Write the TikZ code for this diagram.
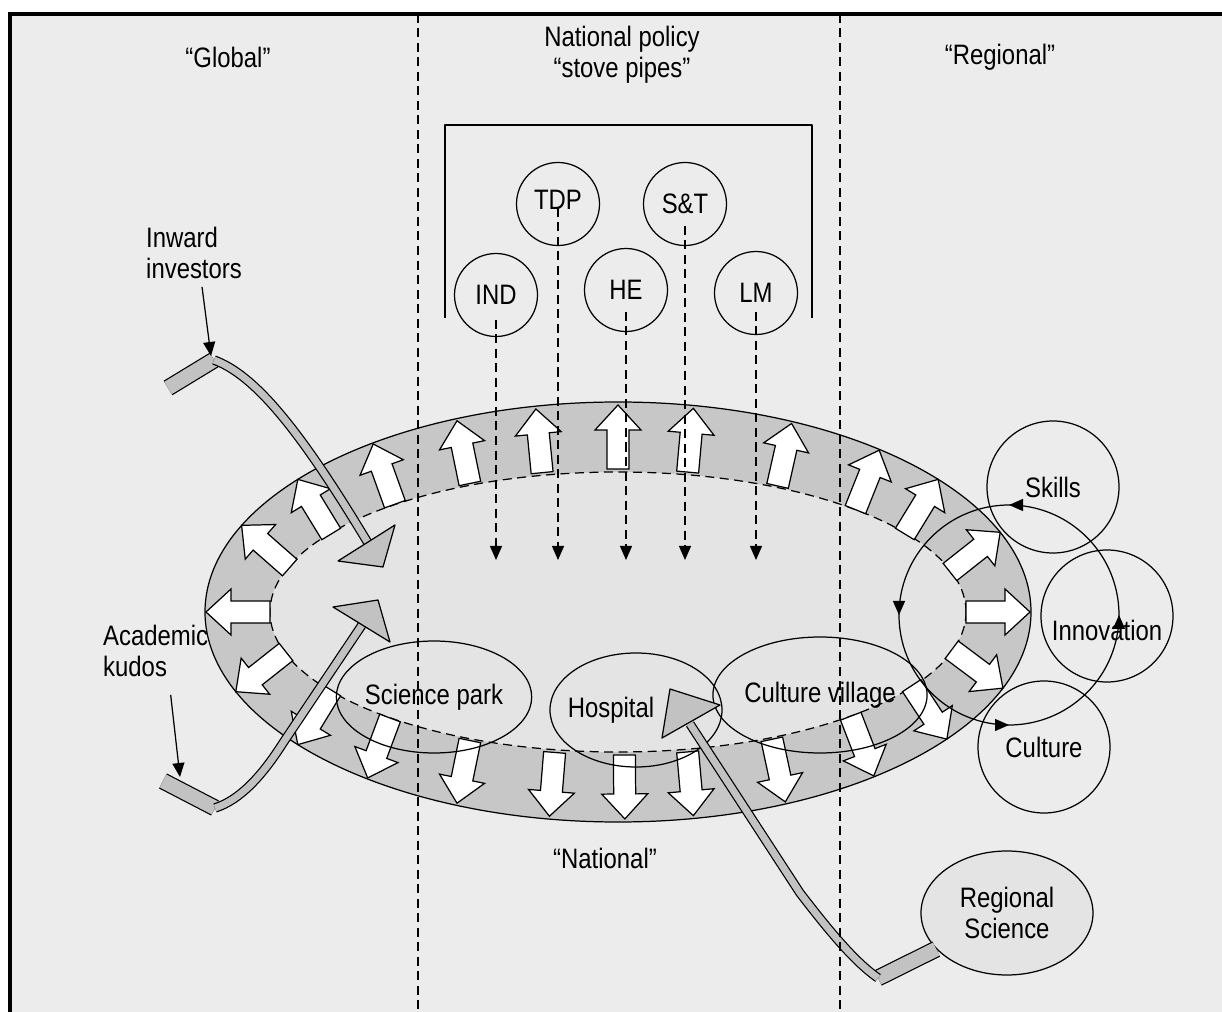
\documentclass[tikz,border=0pt]{standalone}
\usepackage{fontspec}
\setmainfont{Liberation Sans}[FakeStretch=0.85]
\usetikzlibrary{arrows.meta,calc,shapes.geometric,decorations.markings}

\definecolor{paper}{gray}{0.925}
\definecolor{ringgrey}{gray}{0.78}
\definecolor{core}{gray}{0.895}
\definecolor{pipegrey}{gray}{0.76}

\begin{document}
\begin{tikzpicture}[x=0.2mm, y=0.2mm, line join=round,
    every node/.style={font=\fontsize{16pt}{17.5pt}\selectfont},
    zone/.style={line width=0.7pt, dash pattern=on 1.8mm off 1.1mm},
    policy/.style={circle, draw, line width=0.7pt, minimum size=16.6mm, inner sep=0pt},
    flow/.style={line width=0.7pt, dash pattern=on 1.8mm off 1.1mm, -{Triangle[length=2.8mm,width=2.4mm]}},
    place/.style={ellipse, draw, line width=0.7pt, inner sep=0pt},
    area/.style={circle, draw, line width=0.7pt, minimum size=26.4mm, inner sep=0pt},
    blockarrow/.style={draw, fill=white, line width=0.7pt, line join=miter},
    tube/.style={line width=0.7pt, double=pipegrey, double distance=1.4mm},
    stub/.style={line width=0.7pt, double=pipegrey, double distance=2.9mm},
    pointer/.style={line width=0.7pt, -{Triangle[length=2.8mm,width=2.4mm]}},
    spin/.style={line width=0.7pt, postaction=decorate, decoration={markings,
        mark=at position 0.125 with {\arrow{Triangle[length=2.8mm,width=2.4mm]}},
        mark=at position 0.375 with {\arrow{Triangle[length=2.8mm,width=2.4mm]}},
        mark=at position 0.625 with {\arrow{Triangle[length=2.8mm,width=2.4mm]}},
        mark=at position 0.875 with {\arrow{Triangle[length=2.8mm,width=2.4mm]}}}}
  ]

  \useasboundingbox (0,0) rectangle (1222,-1012);
  \fill[white] (0,0) rectangle (1222,-1012);
  \fill[paper] (10,-14) rectangle (1222,-1012);
  \draw[line width=0.8mm, line join=miter] (10,-1012) -- (10,-14) -- (1222,-14);

  % headings
  \node (glob) at (228,-57) {“Global”};
  \node[align=center] (natpol) at (622,-55) {National policy\\“stove pipes”};
  \node (regl) at (1000,-57) {“Regional”};
  \node (natl) at (605,-858) {“National”};

  % policy stove pipes
  \draw[line width=0.7pt] (445,-318) -- (445,-125) -- (812,-125) -- (812,-318);
  \node[policy] (TDP) at (558,-204) {\raisebox{1.6mm}{TDP}};
  \node[policy] (ST) at (685,-204) {S\&T};
  \node[policy] (IND) at (496,-295) {IND};
  \node[policy] (HE) at (626,-290) {HE};
  \node[policy] (LM) at (756,-293) {LM};

  % the ring
  \coordinate (hub) at (618,-612);
  \filldraw[fill=ringgrey, line width=0.7pt] (hub) ellipse [x radius=413, y radius=210];
  \filldraw[fill=core, zone] (hub) ellipse [x radius=348, y radius=140];
  \foreach \t in {0,20,37,49,64,79,90,102,114,128,143,158,180,200,217,231,246,260,271,281,295,310,325,341} {
    \pgfmathsetmacro{\dir}{atan2(380*sin(\t), 175*cos(\t))}
    \draw[blockarrow, shift={({618+380*cos(\t)}, {-612+175*sin(\t)})}, rotate=\dir]
      (-32,-11) -- (7,-11) -- (7,-23) -- (32,0) -- (7,23) -- (7,11) -- (-32,11) -- cycle;
  }

  % places in the ring
  \node[place, minimum width=34.8mm, minimum height=22.4mm] (sci) at (434,-697) {Science park};
  \node[place, minimum width=34.4mm, minimum height=22.8mm,
        label={[xshift=-5mm]center:Hospital}] (hosp) at (636,-710) {};
  \node[place, minimum width=38.8mm, minimum height=23.2mm] (cvil) at (820,-695) {Culture village};

  % policy flows
  \coordinate (sink) at (0,-560);
  \draw[flow] ($(IND)+(0,-25)$) -- (IND |- sink);
  \draw[flow] ($(TDP)+(0,-4)$) -- (TDP |- sink);
  \draw[flow] ($(HE)+(0,-22)$) -- (HE |- sink);
  \draw[flow] ($(ST)+(0,-22)$) -- (ST |- sink);
  \draw[flow] ($(LM)+(0,-19)$) -- (LM |- sink);

  % regional cycle
  \coordinate (mix) at (1009,-615);
  \draw[spin] ($(mix)+(-45:110)$) arc[start angle=-45, end angle=315, radius=110];
  \node[area] (skills) at (1053,-487) {Skills};
  \node[area, label={[yshift=-2.8mm]center:Innovation}] (innov) at (1107,-616) {};
  \node[area] (cult) at (1044,-747) {Culture};

  % inward investors
  \node[align=left, anchor=west] (inw) at (140,-253) {Inward\\investors};
  \coordinate (inwStub) at (168,-388);
  \coordinate (inwBend) at (214,-360);
  \coordinate (inwEnd) at (368,-543);
  \draw[stub] (inwStub) -- (inwBend);
  \draw[tube] (inwBend) .. controls (255,-375) and (300,-430) .. (inwEnd);
  \filldraw[fill=pipegrey, line width=0.7pt] (338,-561) -- (395,-525) -- (383,-567) -- cycle;
  \draw[pointer] ($(inw.south)+(8,-2)$) -- (211,-356);

  % academic kudos
  \node[align=left, anchor=west] (kud) at (97,-651) {Academic\\kudos};
  \coordinate (kudStub) at (163,-781);
  \coordinate (kudBend) at (215,-808);
  \coordinate (kudEnd) at (362,-625);
  \draw[stub] (kudStub) -- (kudBend);
  \draw[tube] (kudBend) .. controls (240,-800) and (262,-776) .. (283,-743) -- (kudEnd);
  \filldraw[fill=pipegrey, line width=0.7pt] (333,-607) -- (378,-600) -- (390,-642) -- cycle;
  \draw[pointer] ($(kud.south)+(15,-12)$) -- (180,-777);

  % regional science
  \node[place, fill=core, minimum width=34.4mm, minimum height=24.8mm, align=center]
    (regsci) at (1007,-913) {Regional\\Science};
  \coordinate (regBend) at (878,-978);
  \coordinate (regEnd) at (690,-724);
  \draw[stub] (regsci.207) -- (regBend);
  \draw[tube] (regBend) .. controls (855,-962) and (830,-932) .. (800,-893) -- (regEnd);
  \filldraw[fill=pipegrey, line width=0.7pt] (670,-689) -- (720,-705) -- (662,-738) -- cycle;

  % zone borders
  \draw[zone] (418,-14) -- (418,-1012);
  \draw[zone] (840,-14) -- (840,-1012);
\end{tikzpicture}
\end{document}
